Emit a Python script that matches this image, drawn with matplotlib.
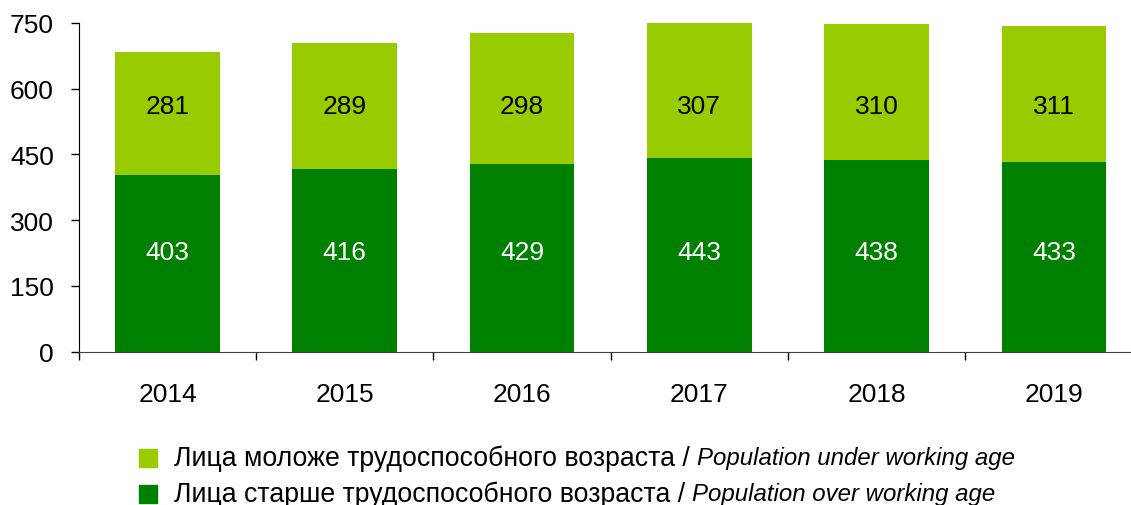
import matplotlib
matplotlib.use("Agg")
import matplotlib.pyplot as plt
from matplotlib.patches import Rectangle

plt.rcParams["font.family"] = ["Liberation Sans", "DejaVu Sans"]

YEARS = ["2014", "2015", "2016", "2017", "2018", "2019"]
OVER_WORKING_AGE = [403, 416, 429, 443, 438, 433]
UNDER_WORKING_AGE = [281, 289, 298, 307, 310, 311]

LIGHT = "#99CC00"
DARK = "#008000"

LEGEND_ROWS = [
    (LIGHT, "Лица моложе трудоспособного возраста / ", "Population under working age"),
    (DARK, "Лица старше трудоспособного возраста / ", "Population over working age"),
]


def main():
    W, H = 1131, 506
    fig = plt.figure(figsize=(W / 100, H / 100), dpi=100)

    # axes runs a little past the right edge, like the original
    left, right = 78.8, 1142.7
    top, bottom = 24.0, 352.7
    ax = fig.add_axes([left / W, 1 - bottom / H, (right - left) / W, (bottom - top) / H])

    x = list(range(len(YEARS)))
    width = 0.59
    ax.bar(x, OVER_WORKING_AGE, width, color=DARK)
    ax.bar(x, UNDER_WORKING_AGE, width, bottom=OVER_WORKING_AGE, color=LIGHT)

    # labels sit at roughly fixed heights in the original
    for i in x:
        ax.text(i, 228, str(OVER_WORKING_AGE[i]), ha="center", va="center",
                color="white", fontsize=19)
        ax.text(i, 560, str(UNDER_WORKING_AGE[i]), ha="center", va="center",
                color="black", fontsize=19)

    ax.set_xlim(-0.5, 5.5)
    ax.set_ylim(0, 750)
    ax.set_yticks([0, 150, 300, 450, 600, 750])
    ax.tick_params(axis="y", direction="out", length=6, width=1, labelsize=19, pad=12)

    ax.set_xticks(x)
    ax.set_xticklabels(YEARS)
    ax.tick_params(axis="x", which="major", length=0, labelsize=19, pad=22)
    ax.set_xticks([i - 0.5 for i in range(len(YEARS) + 1)], minor=True)
    ax.tick_params(axis="x", which="minor", direction="out", length=6, width=1)

    for s in ("top", "right"):
        ax.spines[s].set_visible(False)
    ax.spines["left"].set_color("black")
    ax.spines["bottom"].set_color("#404040")

    # legend by hand: regular russian text, then italic english
    row_y = [458.5, 494.5]
    for (col, ru, en), yy in zip(LEGEND_ROWS, row_y):
        fig.patches.append(Rectangle((139 / W, 1 - (yy + 9) / H), 18 / W, 18 / H,
                                     transform=fig.transFigure, color=col))
        t = fig.text(174 / W, 1 - yy / H, ru, fontsize=19.2, va="center", ha="left")
        ax.annotate(en, xy=(1, 0.5), xycoords=t, va="center", ha="left",
                    fontsize=17.3, style="italic", annotation_clip=False)

    fig.savefig("out.png", dpi=100)
    plt.close(fig)


if __name__ == "__main__":
    main()
